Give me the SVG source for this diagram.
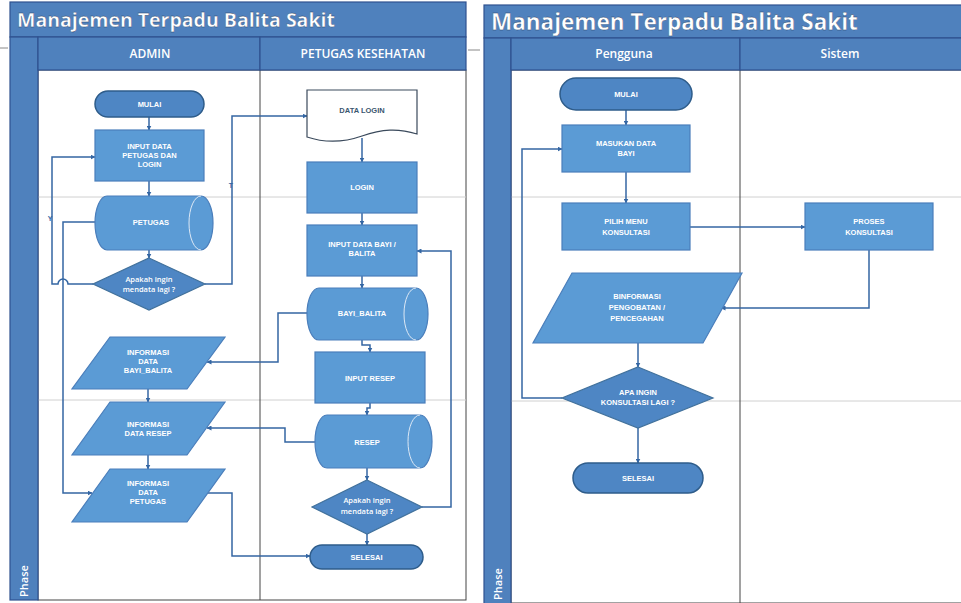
<svg xmlns="http://www.w3.org/2000/svg" width="961" height="603" viewBox="0 0 961 603">
<defs>
<marker id="ah" viewBox="0 0 10 10" refX="9" refY="5" markerWidth="5" markerHeight="5" orient="auto" markerUnits="userSpaceOnUse">
<path d="M0,0 L10,5 L0,10 Z" fill="#3466A3"/>
</marker>
<style>
.bar{fill:#4F81BD;stroke:#2F528F;stroke-width:1.2}
.lane{fill:#ffffff;stroke:#444;stroke-width:1}
.phase{stroke:#d0d0d0;stroke-width:1}
.proc{fill:#5B9BD5;stroke:#4A7EBB;stroke-width:1.2}
.term{fill:#4E86C4;stroke:#2E5C8A;stroke-width:1.5}
.dec{fill:#4E86C4;stroke:#41719C;stroke-width:1.2}
.cyl{fill:#5B9BD5;stroke:#4A7EBB;stroke-width:1.2}
.inner{fill:none;stroke:#DCE8F5;stroke-width:1}
.doc{fill:#ffffff;stroke:#3B4A5C;stroke-width:1.2}
.ca{fill:none;stroke:#3466A3;stroke-width:1.5;marker-end:url(#ah)}
.t{font-family:"Liberation Sans",Arial,sans-serif;font-size:7.5px;font-weight:bold;fill:#ffffff;text-anchor:middle}
.tl{font-family:"Open Sans","Liberation Sans",sans-serif;font-size:7.5px;font-weight:600;fill:#ffffff;text-anchor:middle}
.td{font-family:"Liberation Sans",Arial,sans-serif;font-size:7.5px;font-weight:bold;fill:#3B5670;text-anchor:middle}
.title{font-family:"Open Sans","Liberation Sans",sans-serif;font-weight:bold;fill:#ffffff}
.hdr{font-family:"Open Sans","Liberation Sans",sans-serif;font-size:12px;font-weight:600;fill:#ffffff;text-anchor:middle}
.ph{font-family:"Open Sans","Liberation Sans",sans-serif;font-size:11px;font-weight:600;fill:#ffffff}
.lbl{font-family:"Liberation Sans",Arial,sans-serif;font-size:7px;font-weight:bold;fill:#3466A3;text-anchor:middle}
</style>
</defs>
<rect width="961" height="603" fill="#ffffff"/>

<!-- stray marks -->
<line x1="0" y1="48" x2="8" y2="48" stroke="#888" stroke-width="1"/>
<line x1="468" y1="50" x2="480" y2="50" stroke="#888" stroke-width="1"/>

<!-- LEFT FRAME -->
<g id="frame-left">
<rect x="38" y="70" width="428" height="530" class="lane"/>
<line x1="38" y1="197" x2="466" y2="197" class="phase"/>
<line x1="38" y1="400" x2="466" y2="400" class="phase"/>
<line x1="260" y1="70" x2="260" y2="600" stroke="#444" stroke-width="1"/>
<rect x="10" y="2" width="456" height="35" class="bar"/>
<rect x="10" y="37" width="28" height="563" class="bar"/>
<rect x="38" y="37" width="222" height="33" class="bar"/>
<rect x="260" y="37" width="206" height="33" class="bar"/>
<text x="17" y="27" class="title" font-size="19.5" stroke="#1F3A5F" stroke-width="0.3">Manajemen Terpadu Balita Sakit</text>
<text x="150" y="58" class="hdr">ADMIN</text>
<text x="363" y="58" class="hdr">PETUGAS KESEHATAN</text>
<text transform="translate(28,597) rotate(-90)" class="ph">Phase</text>
</g>

<!-- RIGHT FRAME -->
<g id="frame-right">
<rect x="511" y="70" width="460" height="533" class="lane"/>
<line x1="511" y1="197" x2="961" y2="197" class="phase"/>
<line x1="511" y1="401" x2="961" y2="401" class="phase"/>
<line x1="740" y1="70" x2="740" y2="603" stroke="#444" stroke-width="1"/>
<rect x="484" y="5" width="490" height="33" class="bar"/>
<rect x="484" y="38" width="27" height="570" class="bar"/>
<rect x="511" y="38" width="229" height="32" class="bar"/>
<rect x="740" y="38" width="234" height="32" class="bar"/>
<text x="491" y="30" class="title" font-size="22.5" stroke="#1F3A5F" stroke-width="0.3">Manajemen Terpadu Balita Sakit</text>
<text x="624" y="58" class="hdr">Pengguna</text>
<text x="840" y="58" class="hdr">Sistem</text>
<text transform="translate(502,600) rotate(-90)" class="ph">Phase</text>
</g>

<!-- CONNECTORS -->
<g id="connectors">
<path d="M149,117 V130" class="ca"/>
<path d="M149,181 V196" class="ca"/>
<path d="M149,250 V258" class="ca"/>
<path d="M148,389 V402" class="ca"/>
<path d="M148,455 V469" class="ca"/>
<path d="M93,284 H68 A5,5 0 0 0 58,284 H52 V157 H95" class="ca"/>
<path d="M205,284 H232 V116 H307" class="ca"/>
<path d="M95,222 H63 V493 H92" class="ca"/>
<path d="M208,493 H232 V556 H310" class="ca"/>
<path d="M307,313 H278 V362 H207" class="ca"/>
<path d="M315,442 H285 V428 H207" class="ca"/>
<path d="M422,507 H451 V251 H417" class="ca"/>
<path d="M362,138 V162" class="ca"/>
<path d="M362,213 V225" class="ca"/>
<path d="M362,276 V288" class="ca"/>
<path d="M362,340 V345 H370 V352" class="ca"/>
<path d="M370,403 V408 H367 V415" class="ca"/>
<path d="M367,468 V480" class="ca"/>
<path d="M367,534 V545" class="ca"/>
<text x="50" y="221" class="lbl">Y</text>
<text x="231" y="188" class="lbl">T</text>

<path d="M626,110 V125" class="ca"/>
<path d="M626,172 V203" class="ca"/>
<path d="M690,227 H805" class="ca"/>
<path d="M869,250 V308 H721" class="ca"/>
<path d="M638,343 V367" class="ca"/>
<path d="M638,427 V463" class="ca"/>
<path d="M562,398 H522 V149 H562" class="ca"/>
</g>

<!-- LEFT NODES: ADMIN -->
<g id="n-mulai-a">
<rect x="95" y="91" width="109" height="26" rx="13" class="term"/>
<text x="149.5" y="107" class="t">MULAI</text>
</g>
<g id="n-input-petugas">
<rect x="95" y="130" width="109" height="51" class="proc"/>
<text x="149.5" y="149" class="t">INPUT DATA</text>
<text x="149.5" y="158" class="t">PETUGAS DAN</text>
<text x="149.5" y="167" class="t">LOGIN</text>
</g>
<g id="n-petugas">
<path d="M107,196 H201 A12,27 0 0 1 201,250 H107 A12,27 0 0 1 107,196 Z" class="cyl"/>
<path d="M201,196 A12,27 0 0 0 201,250" class="inner"/>
<text x="151" y="225" class="t">PETUGAS</text>
</g>
<g id="n-dec-a">
<polygon points="149,258 205,284 149,310 93,284" class="dec"/>
<text x="149" y="282" class="tl">Apakah ingin</text>
<text x="149" y="292" class="tl">mendata lagi ?</text>
</g>
<g id="n-info-bayi">
<polygon points="110,337 225,337 187,389 72,389" class="proc"/>
<text x="148" y="355" class="t">INFORMASI</text>
<text x="148" y="364" class="t">DATA</text>
<text x="148" y="373" class="t">BAYI_BALITA</text>
</g>
<g id="n-info-resep">
<polygon points="110,402 225,402 187,455 72,455" class="proc"/>
<text x="148" y="427" class="t">INFORMASI</text>
<text x="148" y="436" class="t">DATA RESEP</text>
</g>
<g id="n-info-petugas">
<polygon points="110,469 225,469 187,522 72,522" class="proc"/>
<text x="148" y="486" class="t">INFORMASI</text>
<text x="148" y="495" class="t">DATA</text>
<text x="148" y="504" class="t">PETUGAS</text>
</g>

<!-- LEFT NODES: PETUGAS KESEHATAN -->
<g id="n-data-login">
<path d="M307,90 H417 V134 C398,128 382,129 362,136 C342,143 325,143 307,137 Z" class="doc"/>
<text x="362" y="113" class="td">DATA LOGIN</text>
</g>
<g id="n-login">
<rect x="307" y="162" width="110" height="51" class="proc"/>
<text x="362" y="190" class="t">LOGIN</text>
</g>
<g id="n-input-bayi">
<rect x="307" y="225" width="110" height="51" class="proc"/>
<text x="362" y="247" class="t">INPUT DATA BAYI /</text>
<text x="362" y="256" class="t">BALITA</text>
</g>
<g id="n-bayi-balita">
<path d="M319,288 H416 A12,26 0 0 1 416,340 H319 A12,26 0 0 1 319,288 Z" class="cyl"/>
<path d="M416,288 A12,26 0 0 0 416,340" class="inner"/>
<text x="362" y="316" class="t">BAYI_BALITA</text>
</g>
<g id="n-input-resep">
<rect x="315" y="352" width="110" height="51" class="proc"/>
<text x="370" y="381" class="t">INPUT RESEP</text>
</g>
<g id="n-resep">
<path d="M327,415 H420 A12,26.5 0 0 1 420,468 H327 A12,26.5 0 0 1 327,415 Z" class="cyl"/>
<path d="M420,415 A12,26.5 0 0 0 420,468" class="inner"/>
<text x="367" y="445" class="t">RESEP</text>
</g>
<g id="n-dec-p">
<polygon points="367,480 422,507 367,534 312,507" class="dec"/>
<text x="367" y="503" class="tl">Apakah ingin</text>
<text x="367" y="514" class="tl">mendata lagi ?</text>
</g>
<g id="n-selesai-a">
<rect x="310" y="545" width="113" height="24" rx="12" class="term"/>
<text x="366.5" y="560" class="t">SELESAI</text>
</g>

<!-- RIGHT NODES -->
<g id="n-mulai-b">
<rect x="560" y="78" width="132" height="32" rx="16" class="term"/>
<text x="626" y="97" class="t">MULAI</text>
</g>
<g id="n-masukan">
<rect x="562" y="125" width="128" height="47" class="proc"/>
<text x="626" y="146" class="t">MASUKAN DATA</text>
<text x="626" y="156" class="t">BAYI</text>
</g>
<g id="n-pilih">
<rect x="562" y="203" width="128" height="47" class="proc"/>
<text x="626" y="224" class="t">PILIH MENU</text>
<text x="626" y="235" class="t">KONSULTASI</text>
</g>
<g id="n-proses">
<rect x="805" y="203" width="128" height="47" class="proc"/>
<text x="869" y="224" class="t">PROSES</text>
<text x="869" y="235" class="t">KONSULTASI</text>
</g>
<g id="n-informasi">
<polygon points="572,273 742,273 703,343 533,343" class="proc"/>
<text x="637" y="299" class="t">BINFORMASI</text>
<text x="637" y="310" class="t">PENGOBATAN /</text>
<text x="637" y="321" class="t">PENCEGAHAN</text>
</g>
<g id="n-dec-b">
<polygon points="638,367 713,398 638,428 562,398" class="dec"/>
<text x="638" y="395" class="t">APA INGIN</text>
<text x="638" y="405" class="t">KONSULTASI LAGI ?</text>
</g>
<g id="n-selesai-b">
<rect x="573" y="463" width="130" height="30" rx="15" class="term"/>
<text x="638" y="481" class="t">SELESAI</text>
</g>
</svg>
